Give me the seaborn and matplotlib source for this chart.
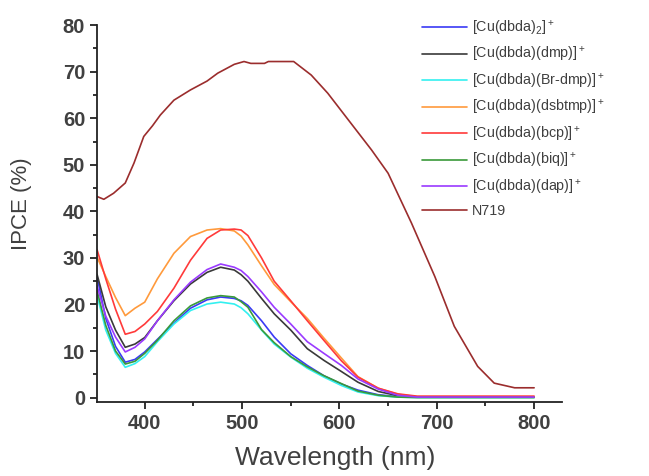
import matplotlib
matplotlib.use("Agg")
import matplotlib.pyplot as plt
from matplotlib.ticker import MultipleLocator
import pandas as pd
import seaborn as sns

# wavelength grid shared by the Cu complexes (nm)
wl_cu = [351, 360, 370, 380, 390, 400, 413, 430, 447, 464, 478, 492, 499, 506,
         520, 533, 550, 567, 584, 602, 619, 640, 660, 680, 700, 750, 800]

ipce_dbda2 = [26.0, 17.0, 11.0, 7.6, 8.2, 9.8, 12.5, 16.0, 19.2, 21.0, 21.6, 21.3, 20.8, 19.8,
              16.5, 13.0, 9.4, 6.9, 4.7, 2.9, 1.6, 0.6, 0.2, 0.1, 0.1, 0.1, 0.1]
ipce_dmp = [26.5, 19.5, 14.5, 10.8, 11.5, 12.9, 16.5, 20.8, 24.4, 26.9, 28.0, 27.4, 26.4, 25.0,
            21.3, 18.0, 14.5, 10.5, 8.0, 5.6, 3.3, 1.3, 0.4, 0.1, 0.1, 0.1, 0.1]
ipce_brdmp = [22.0, 14.5, 9.5, 6.5, 7.3, 8.8, 12.0, 15.8, 18.7, 20.1, 20.5, 20.1, 19.3, 18.0,
              14.5, 11.5, 8.7, 6.3, 4.4, 2.6, 1.2, 0.4, 0.1, 0.0, 0.0, 0.0, 0.0]
ipce_dsbtmp = [30.2, 26.0, 21.5, 17.6, 19.2, 20.5, 25.5, 31.0, 34.6, 36.0, 36.3, 35.8, 34.7, 32.8,
               28.3, 24.3, 20.6, 17.0, 12.8, 8.5, 4.5, 2.0, 0.7, 0.2, 0.2, 0.2, 0.2]
ipce_bcp = [31.8, 25.5, 19.0, 13.6, 14.2, 15.8, 18.5, 23.5, 29.5, 34.2, 36.0, 36.2, 36.0, 34.8,
            30.0, 25.0, 20.8, 16.5, 12.3, 7.9, 4.4, 2.0, 0.8, 0.3, 0.3, 0.3, 0.3]
ipce_biq = [23.0, 15.5, 10.0, 7.2, 7.8, 9.5, 12.3, 16.5, 19.7, 21.4, 21.9, 21.6, 20.6, 19.4,
            14.6, 11.8, 8.8, 6.6, 4.7, 3.0, 1.4, 0.5, 0.1, 0.0, 0.0, 0.0, 0.0]
ipce_dap = [24.0, 17.5, 13.0, 9.8, 10.8, 12.6, 16.5, 21.0, 24.8, 27.5, 28.7, 28.0, 27.3, 26.0,
            22.7, 19.4, 15.8, 12.0, 9.5, 6.9, 4.0, 1.8, 0.5, 0.1, 0.1, 0.1, 0.1]

wl_n719 = [351, 358, 368, 380, 389, 399, 408, 416, 430, 447, 464, 475, 492, 502, 509, 523,
           527, 553, 571, 588, 609, 633, 650, 674, 698, 718, 742, 759, 780, 800]
ipce_n719 = [43.2, 42.6, 43.9, 46.1, 50.4, 56.1, 58.4, 60.7, 63.9, 66.1, 68.0, 69.7, 71.6, 72.2,
             71.8, 71.8, 72.2, 72.2, 69.3, 65.4, 59.7, 53.2, 48.2, 37.5, 26.0, 15.3, 6.7, 3.1,
             2.1, 2.1]

labels = [r"[Cu(dbda)$_2]^+$", r"[Cu(dbda)(dmp)$]^+$", r"[Cu(dbda)(Br-dmp)$]^+$",
          r"[Cu(dbda)(dsbtmp)$]^+$", r"[Cu(dbda)(bcp)$]^+$", r"[Cu(dbda)(biq)$]^+$",
          r"[Cu(dbda)(dap)$]^+$", "N719"]
colors = ["#3a3af5", "#3a3a3a", "#33f0f0", "#ff9a3c", "#ff3a3a", "#3a9a3a", "#9a3aff", "#9b2d2d"]

cu_series = [ipce_dbda2, ipce_dmp, ipce_brdmp, ipce_dsbtmp, ipce_bcp, ipce_biq, ipce_dap]
frames = [pd.DataFrame({"wl": wl_cu, "ipce": s, "sample": lab})
          for s, lab in zip(cu_series, labels[:7])]
frames.append(pd.DataFrame({"wl": wl_n719, "ipce": ipce_n719, "sample": labels[7]}))
df = pd.concat(frames, ignore_index=True)

sns.set_style("ticks")
plt.rcParams["font.family"] = ["Liberation Sans", "DejaVu Sans"]
plt.rcParams["mathtext.default"] = "regular"

fig = plt.figure(figsize=(6.49, 4.76), dpi=100)
ax = fig.add_axes([0.1495, 0.155, 0.717, 0.792])

sns.lineplot(data=df, x="wl", y="ipce", hue="sample", hue_order=labels,
             palette=dict(zip(labels, colors)), linewidth=1.2, errorbar=None,
             ax=ax)

ax.set_xlim(351, 829)
ax.set_ylim(-1, 80)
ax.xaxis.set_major_locator(MultipleLocator(100))
ax.xaxis.set_minor_locator(MultipleLocator(50))
ax.yaxis.set_major_locator(MultipleLocator(10))
ax.yaxis.set_minor_locator(MultipleLocator(5))
ax.tick_params(which="major", direction="out", length=5, width=1.3, colors="#222222",
               labelsize=14.5, labelcolor="#404040")
ax.tick_params(which="minor", direction="out", length=3, width=1.3, colors="#222222")
for lab in ax.get_xticklabels() + ax.get_yticklabels():
    lab.set_fontweight("bold")
for side in ["left", "bottom"]:
    ax.spines[side].set_linewidth(1.3)
    ax.spines[side].set_color("#222222")
sns.despine(ax=ax)

ax.set_xlabel("Wavelength (nm)", fontsize=19, color="#404040")
ax.set_ylabel("IPCE (%)", fontsize=16, color="#404040")
ax.xaxis.set_label_coords(0.512, -0.115)
ax.yaxis.set_label_coords(-0.14, 0.527)

leg = ax.legend(loc="upper left", bbox_to_anchor=(0.685, 1.032), frameon=False,
                fontsize=10.3, handlelength=3.2, handletextpad=0.3,
                labelspacing=0.52, borderaxespad=0)
for t in leg.get_texts():
    t.set_color("#404040")

fig.savefig("out.png", dpi=100)
